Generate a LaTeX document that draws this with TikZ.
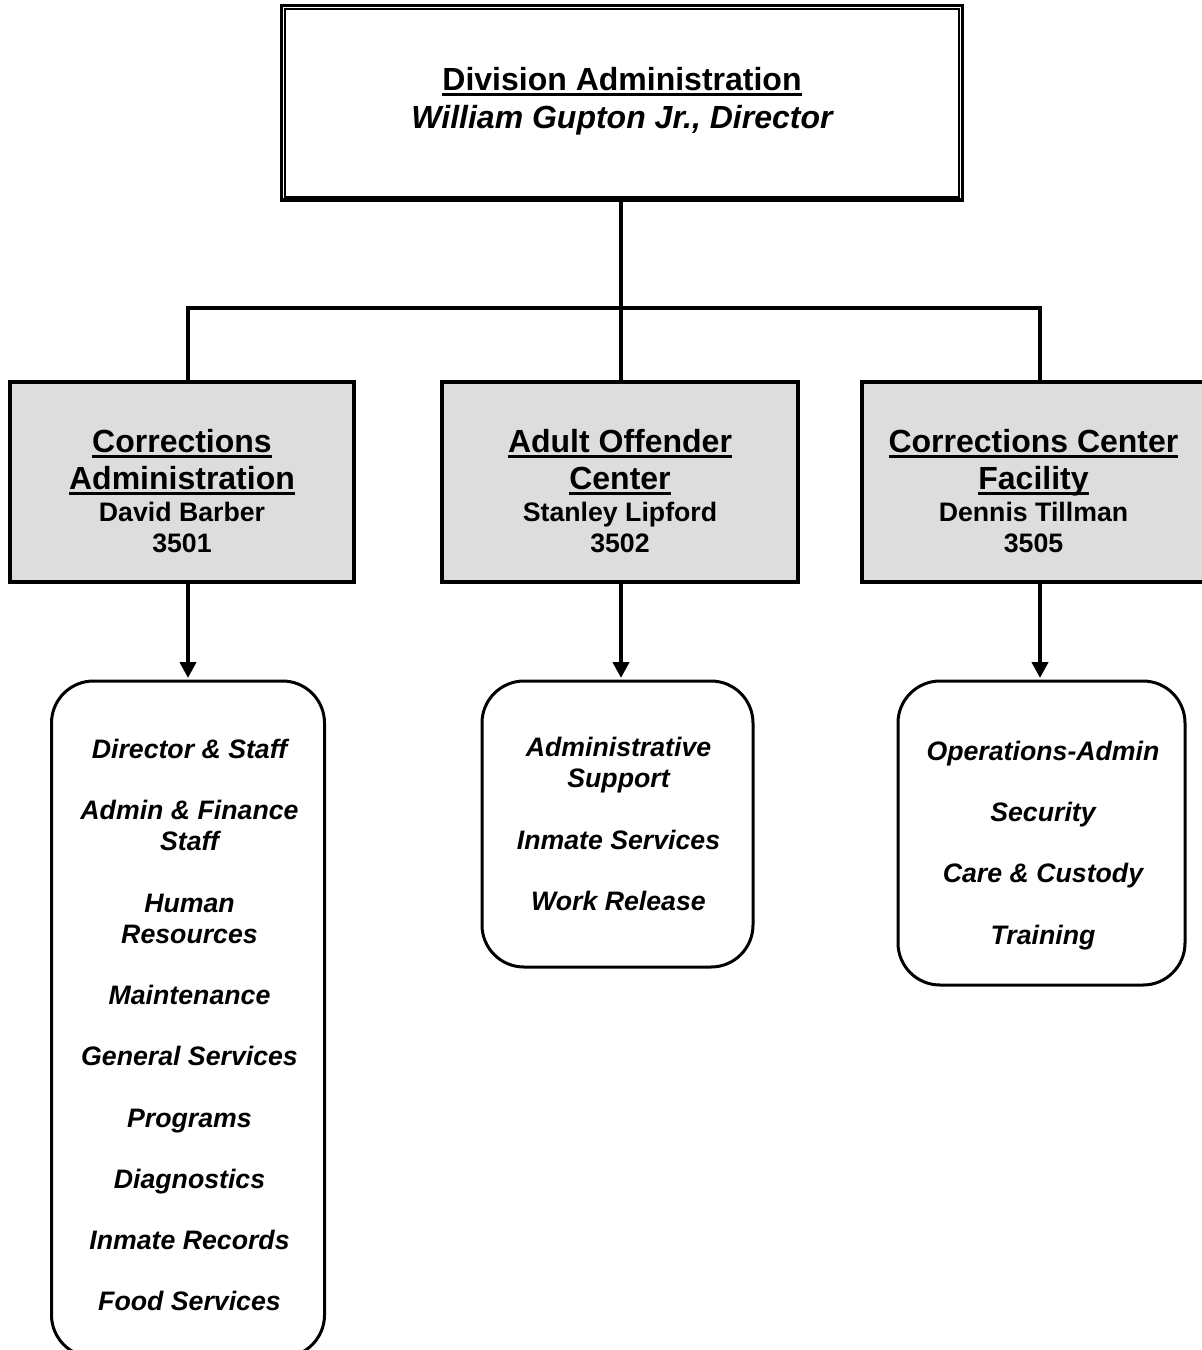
\documentclass[tikz,border=0pt]{standalone}
\usepackage{fontspec}
\setmainfont{Liberation Sans}
\usetikzlibrary{arrows.meta}
\definecolor{boxgray}{HTML}{DDDDDD}
\newcommand\myul[1]{\leavevmode\setbox0=\hbox{#1}\rlap{\rule[-5.5pt]{\wd0}{3pt}}\box0}
\newcommand\hd[1]{{\fontsize{32}{38}\selectfont\myul{#1}}}
\newcommand\tstrut{\rule{0pt}{25pt}}
\begin{document}
\begin{tikzpicture}[x=1pt,y=-1pt,
  topbox/.style={draw,line width=3.3pt,minimum width=680.6pt,minimum height=194.3pt,inner sep=0pt},
  graybox/.style={draw,fill=boxgray,line width=3.3pt,minimum height=200pt,inner sep=0pt},
  listbox/.style={draw,line width=3pt,rounded corners=42pt,inner sep=0pt},
  ttext/.style={anchor=north,align=center,inner sep=0pt,font=\fontsize{32}{38}\selectfont\bfseries},
  gtext/.style={anchor=north,align=center,inner sep=0pt,font=\fontsize{26.7}{31}\selectfont\bfseries},
  ltext/.style={anchor=north,align=center,inner sep=0pt,font=\fontsize{26.7}{31}\selectfont\bfseries\itshape},
  conn/.style={line width=4.5pt},
  arr/.style={line width=4.5pt,-{Triangle[width=16pt,length=16pt]},shorten >=1.5pt}
]
\useasboundingbox (0,0) rectangle (1202,1350);

% top box
\node[topbox] (top) at (622,102.85) {};
\draw[line width=2pt] ([shift={(4.6,4.6)}]top.north west) rectangle ([shift={(-4.6,-4.6)}]top.south east);
\node[ttext] (title) at (622,65) {\tstrut\myul{Division Administration}\\\itshape William Gupton Jr., Director};

% gray boxes
\node[graybox,minimum width=344pt] (g1) at (182,482) {};
\node[graybox,minimum width=356pt] (g2) at (620,482) {};
\node[graybox,minimum width=344pt] (g3) at (1034,482) {};

\node[gtext] (t1) at (182,427) {\tstrut\hd{Corrections}\\[6pt]\hd{Administration}\\[1.5pt]David Barber\\3501};
\node[gtext] (t2) at (620,427) {\tstrut\hd{Adult Offender}\\[6pt]\hd{Center}\\[1.5pt]Stanley Lipford\\3502};
\node[gtext] (t3) at (1033.5,427) {\tstrut\hd{Corrections Center}\\[6pt]\hd{Facility}\\[1.5pt]Dennis Tillman\\3505};

% rounded list boxes
\node[listbox,minimum width=273pt,minimum height=676pt] (r1) at (188,1019) {};
\node[listbox,minimum width=271pt,minimum height=286pt] (r2) at (617.5,824) {};
\node[listbox,minimum width=287pt,minimum height=304pt] (r3) at (1041.5,833) {};

\node[ltext] (l1) at (189.5,733.3) {\tstrut Director \& Staff\\[30.3pt]Admin \& Finance\\Staff\\[30.3pt]Human\\Resources\\[30.3pt]Maintenance\\[30.3pt]General Services\\[30.3pt]Programs\\[30.3pt]Diagnostics\\[30.3pt]Inmate Records\\[30.3pt]Food Services};
\node[ltext] (l2) at (618.5,731.7) {\tstrut Administrative\\Support\\[30.3pt]Inmate Services\\[30.3pt]Work Release};
\node[ltext] (l3) at (1043,735) {\tstrut Operations-Admin\\[30.3pt]Security\\[30.3pt]Care \& Custody\\[30.3pt]Training};

% connectors
\coordinate (c1) at (188,308);
\coordinate (c2) at (621,308);
\coordinate (c3) at (1040,308);
\draw[conn] (c2 |- top.south) -- (c2 |- g2.north);
\draw[conn] (c1 |- g1.north) -- (c1) -- (c3) -- (c3 |- g3.north);

\draw[arr] (c1 |- g1.south) -- (c1 |- r1.north);
\draw[arr] (c2 |- g2.south) -- (c2 |- r2.north);
\draw[arr] (c3 |- g3.south) -- (c3 |- r3.north);
\end{tikzpicture}
\end{document}
